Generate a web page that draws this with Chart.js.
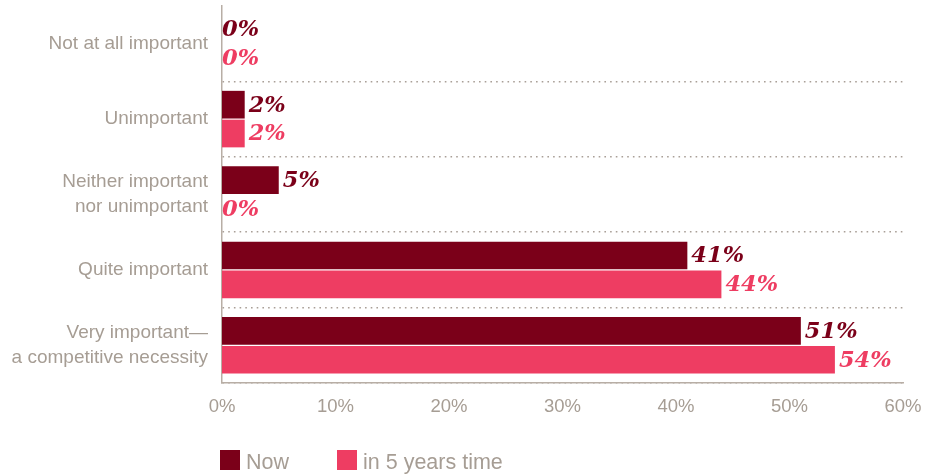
<!DOCTYPE html>
<html>
<head>
<meta charset="utf-8">
<script src="https://cdn.jsdelivr.net/npm/chart.js@4.4.1/dist/chart.umd.min.js"></script>
<style>
  html, body { margin: 0; padding: 0; background: #fff; }
  #wrap { position: relative; width: 938px; height: 474px; }
  #legend { position: absolute; left: 220px; top: 450px; display: flex; font-family: "Liberation Sans", Arial, sans-serif; font-size: 21.5px; color: #a69d94; }
  #legend .item { display: flex; align-items: center; }
  #legend .box { width: 20px; height: 20px; margin-right: 6px; }
  #legend .txt { line-height: 20px; position: relative; top: 2px; }
</style>
</head>
<body>
<div id="wrap">
  <canvas id="metricChart" width="938" height="474"></canvas>
  <div id="legend"></div>
</div>
<script>
// answers per category, in percent
const categories = [
    'Not at all important',
    'Unimportant',
    ['Neither important', 'nor unimportant'],
    'Quite important',
    ['Very important\u2014', 'a competitive necessity']
];
const nowValues = [0, 2, 5, 41, 51];
const fiveYearValues = [0, 2, 0, 44, 54];
const seriesNames = ['Now', 'in 5 years time'];
const tickLabels = ['0%', '10%', '20%', '30%', '40%', '50%', '60%'];

const darkRed = '#7b0019';
const pink = '#ee3d62';
const grey = '#a69d94';
const axisGrey = '#b8aea5';

// value labels at the end of each bar
const valueLabels = {
    id: 'valueLabels',
    afterDatasetsDraw(chart) {
        const ctx = chart.ctx;
        ctx.save();
        ctx.font = 'italic bold 22.5px "DejaVu Serif", Georgia, serif';
        ctx.textAlign = 'left';
        ctx.textBaseline = 'middle';
        chart.data.datasets.forEach((ds, i) => {
            chart.getDatasetMeta(i).data.forEach((bar, j) => {
                const v = ds.data[j];
                ctx.fillStyle = ds.backgroundColor;
                ctx.fillText(v + '%', bar.x + (v > 0 ? 4 : 0), bar.y + 1);
            });
        });
        ctx.restore();
    }
};

function renderChart()
{
    const ctx = document.getElementById('metricChart').getContext('2d');
    new Chart(ctx, {
        type: 'bar',
        data: {
            labels: categories,
            datasets: [
                { label: seriesNames[0], data: nowValues, backgroundColor: darkRed,
                  categoryPercentage: 0.765, barPercentage: 0.96 },
                { label: seriesNames[1], data: fiveYearValues, backgroundColor: pink,
                  categoryPercentage: 0.765, barPercentage: 0.96 }
            ]
        },
        options: {
            indexAxis: 'y',
            responsive: false,
            animation: false,
            layout: { padding: { top: 6, right: 35, left: 0, bottom: 0 } },
            plugins: {
                legend: { display: false },
                tooltip: { enabled: false }
            },
            scales: {
                x: {
                    min: 0,
                    max: 60,
                    afterFit(scale) {
                        scale.height = 91;
                        scale.paddingLeft = 0;
                        scale.paddingRight = 0;
                    },
                    afterBuildTicks(scale) {
                        scale.ticks = tickLabels.map((t, i) => ({ value: i * 10 }));
                    },
                    ticks: {
                        callback: (v, i) => tickLabels[i],
                        color: grey,
                        padding: 13,
                        maxRotation: 0,
                        font: { family: '"Liberation Sans", Arial, sans-serif', size: 18.5 }
                    },
                    grid: { display: false, drawTicks: false },
                    border: { display: true, color: axisGrey, width: 1.5 }
                },
                y: {
                    afterFit(scale) {
                        scale.width = 222;
                        scale.paddingTop = 0;
                        scale.paddingBottom = 0;
                    },
                    ticks: {
                        color: grey,
                        padding: 14,
                        font: { family: '"Liberation Sans", Arial, sans-serif', size: 19, lineHeight: 1.3 }
                    },
                    grid: {
                        offset: true,
                        drawTicks: false,
                        lineWidth: 1.6,
                        color: c => c.index === 0 ? 'rgba(0,0,0,0)' : '#a99f97'
                    },
                    border: { display: true, color: axisGrey, width: 1.5, dash: [1.6, 4.1] }
                }
            }
        },
        plugins: [valueLabels]
    });

    // legend below the plot
    const legend = document.getElementById('legend');
    [darkRed, pink].forEach((col, i) => {
        const item = document.createElement('div');
        item.className = 'item';
        item.style.marginRight = i === 0 ? '48px' : '0';
        item.innerHTML = '<div class="box" style="background:' + col + '"></div><span class="txt">' + seriesNames[i] + '</span>';
        legend.appendChild(item);
    });
}

renderChart();
</script>
</body>
</html>
